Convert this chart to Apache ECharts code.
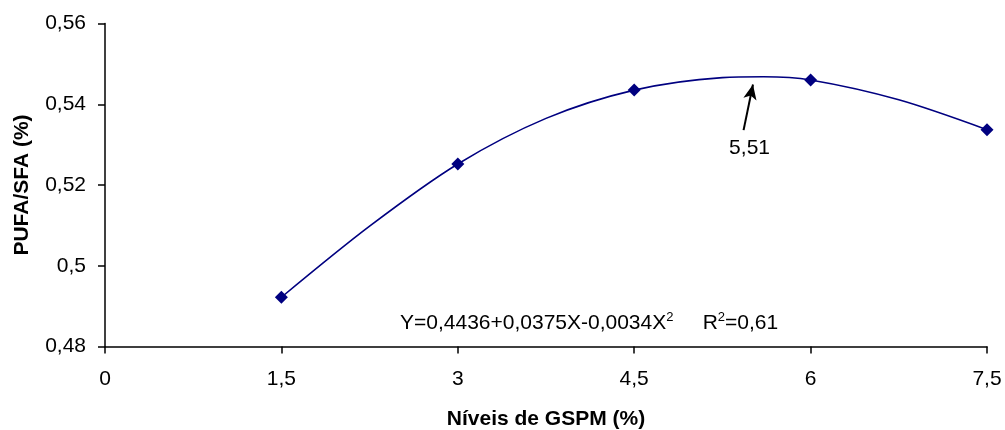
<!DOCTYPE html>
<html><head><meta charset="utf-8">
<script src="https://cdn.jsdelivr.net/npm/echarts@6/dist/echarts.min.js"></script>
<style>html,body{margin:0;padding:0;background:#fff}#c{width:1005px;height:430px}</style>
</head><body><div id="c"></div>
<script>
// Observed points
const levels = [1.5, 3, 4.5, 6, 7.5];
const ratio = [0.4922, 0.5252, 0.5435, 0.5460, 0.5337];
// Trend curve points
const curveX = [1.5, 2.25, 3, 3.75, 4.5, 5.25, 5.6, 6, 6.75, 7.5];
const curveY = [0.4922, 0.5098, 0.5252, 0.5365, 0.5435, 0.5466, 0.5468, 0.5460, 0.5411, 0.5337];
// Axis ticks
const xTicks = [0, 1.5, 3, 4.5, 6, 7.5];
const yTicks = [0.48, 0.50, 0.52, 0.54, 0.56];
// Annotation
const arrowFrom = [5.43, 0.5336];
const arrowTo = [5.51, 0.5449];
const arrowLabel = '5,51';
const equation = 'Y=0,4436+0,0375X-0,0034X';
const r2 = '=0,61';

const fmt = v => String(+v.toFixed(4)).replace('.', ',');
const FONT = '"Liberation Sans", Arial, sans-serif';

const chart = echarts.init(document.getElementById('c'), null, {renderer: 'canvas'});
chart.setOption({
  animation: false,
  grid: {left: 105, right: 18, top: 23.5, bottom: 83.5, containLabel: false, outerBoundsMode: 'none'},
  xAxis: {
    type: 'value', min: xTicks[0], max: xTicks[xTicks.length - 1], interval: 1.5,
    name: 'Níveis de GSPM (%)', nameLocation: 'middle', nameGap: 62,
    nameTextStyle: {fontFamily: FONT, fontSize: 21, fontWeight: 'bold', color: '#000'},
    axisLine: {lineStyle: {color: '#000', width: 1.5}},
    axisTick: {show: true, length: 7, lineStyle: {color: '#000', width: 1.5}},
    axisLabel: {fontFamily: FONT, fontSize: 21, color: '#000', margin: 22, formatter: fmt},
    splitLine: {show: false}
  },
  yAxis: {
    type: 'value', min: yTicks[0], max: yTicks[yTicks.length - 1], interval: 0.02,
    name: 'PUFA/SFA (%)', nameLocation: 'middle', nameGap: 72, nameRotate: 90,
    nameTextStyle: {fontFamily: FONT, fontSize: 21, fontWeight: 'bold', color: '#000'},
    axisLine: {show: true, lineStyle: {color: '#000', width: 1.5}},
    axisTick: {show: true, length: 7, lineStyle: {color: '#000', width: 1.5}},
    axisLabel: {fontFamily: FONT, fontSize: 21, color: '#000', margin: 19, formatter: fmt},
    splitLine: {show: false}
  },
  series: [
    {
      type: 'line', name: 'trend', smooth: 0.3, showSymbol: false, symbol: 'none',
      data: curveX.map((x, i) => [x, curveY[i]]),
      lineStyle: {color: '#000080', width: 1.6},
      markLine: {
        silent: true, symbol: ['none', 'arrow'], symbolSize: [10, 15],
        lineStyle: {color: '#000', width: 2, type: 'solid'},
        label: {show: true, position: 'start', formatter: arrowLabel, fontFamily: FONT, fontSize: 21, color: '#000', distance: 5, offset: [7, 3]},
        data: [[{coord: arrowFrom}, {coord: arrowTo}]]
      }
    },
    {
      type: 'line', name: 'obs', symbol: 'diamond', symbolSize: 13,
      data: levels.map((x, i) => [x, ratio[i]]),
      lineStyle: {width: 0, opacity: 0},
      itemStyle: {color: '#000080'}
    }
  ],
  graphic: [{
    type: 'text', left: 400, top: 311,
    style: {
      rich: {
        n: {fontFamily: FONT, fontSize: 21, fill: '#000'},
        s: {fontFamily: FONT, fontSize: 13, fill: '#000', verticalAlign: 'top', padding: [0, 0, 11, 0]}
      },
      text: '{n|' + equation + '}{s|2}{n|     R}{s|2}{n|' + r2 + '}'
    }
  }]
});
</script></body></html>
